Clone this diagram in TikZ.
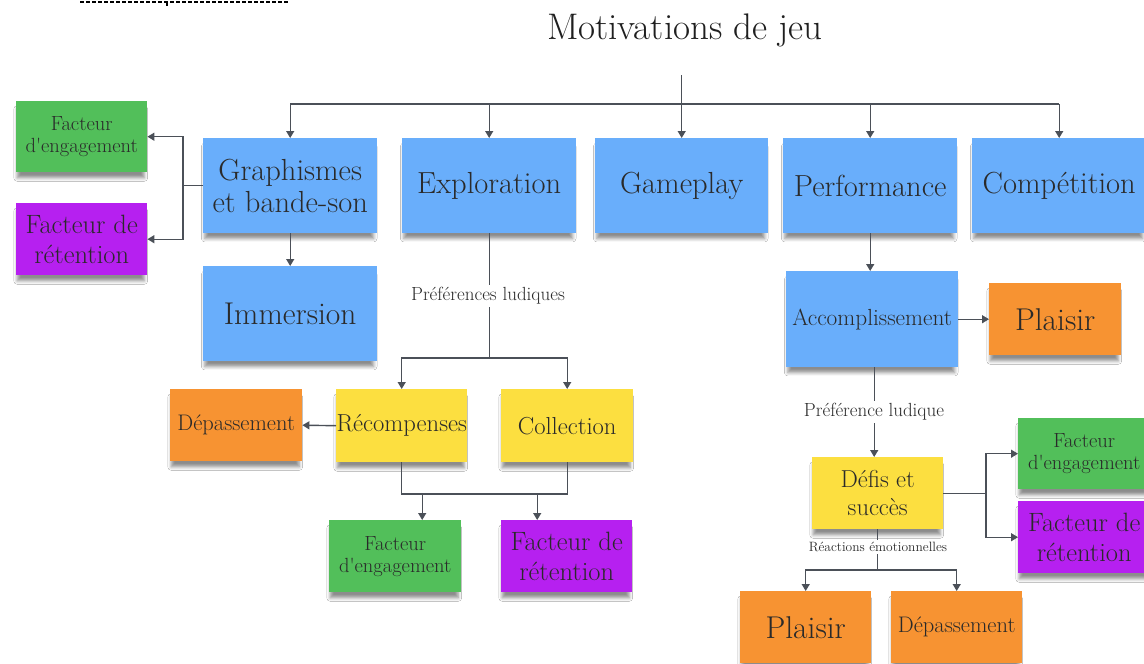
\documentclass[tikz,border=0pt]{standalone}
\usepackage{fontspec}
\usetikzlibrary{arrows.meta,shadows.blur}

\definecolor{notebl}{HTML}{69AEFB}
\definecolor{notegr}{HTML}{52BF5A}
\definecolor{notepu}{HTML}{B620F0}
\definecolor{noteor}{HTML}{F79332}
\definecolor{noteye}{HTML}{FCDF40}
\definecolor{ink}{HTML}{2A2A2A}
\definecolor{wire}{HTML}{4B5058}

\newcommand{\fs}[2]{\fontsize{#1}{#2}\selectfont}
\newcommand{\engage}{Facteur\\d\textquotesingle engagement}

\tikzset{
  note/.style={rectangle, anchor=north west, inner sep=0pt, align=center, text=ink,
    blur shadow={shadow xshift=-1pt, shadow yshift=-7pt, shadow scale=0.97,
      shadow blur radius=3.5pt, shadow blur extra rounding=0pt, shadow opacity=45}},
  small/.style={minimum width=131pt, minimum height=72pt},
  big/.style={minimum width=174pt, minimum height=95pt},
  blue/.style={note, fill=notebl},
  green/.style={note, fill=notegr},
  purple/.style={note, fill=notepu},
  orange/.style={note, fill=noteor},
  yellow/.style={note, fill=noteye},
  wirestyle/.style={draw=wire, line width=1.4pt},
  arr/.style={wirestyle, -{Triangle[length=7pt,width=8pt]}},
  edgelabel/.style={fill=white, inner sep=2pt, text=ink},
  rowtext/.style={font=\fs{30.5}{32}},
  engtext/.style={font=\fs{20.5}{22}},
  rettext/.style={font=\fs{26.5}{30}},
}

\begin{document}
\begin{tikzpicture}[x=1pt,y=-1pt]
\clip (0,0) rectangle (1144,664);
\fill[white] (0,0) rectangle (1144,664);

% dashed rule along the top edge
\coordinate (ruleA) at (80,2);
\coordinate (ruleB) at (288,2);
\coordinate (ruleT) at (167,6);
\draw[black, line width=1.6pt, dash pattern=on 3.5pt off 2.5pt] (ruleA) -- (ruleB);
\draw[black, line width=1.5pt] (ruleT |- ruleA) -- (ruleT);

% title
\node[text=black!88, font=\fs{37}{40}] (title) at (685,30) {Motivations de jeu};

% first row
\node[blue, big, rowtext] (graph) at (203,138) {Graphismes\\et bande-son};
\node[blue, big, rowtext] (expl) at (402,138) {Exploration};
\node[blue, big, minimum width=173pt, rowtext] (game) at (595,138) {Gameplay};
\node[blue, big, rowtext] (perf) at (783,138) {Performance};
\node[blue, big, rowtext] (comp) at (972,138) {Compétition};

% left branch
\node[green, small, minimum height=71pt, engtext] (eng1) at (16,101) {\engage};
\node[purple, small, rettext] (ret1) at (16,203) {Facteur de\\rétention};
\node[blue, big, font=\fs{31.5}{34}] (imm) at (203,266) {Immersion};

% exploration branch
\node[yellow, small, minimum height=73pt, font=\fs{24.6}{28}] (recomp) at (336,389) {Récompenses};
\node[yellow, small, minimum width=132pt, minimum height=73pt, font=\fs{24.6}{28}] (coll) at (501,389) {Collection};
\node[orange, small, minimum width=132pt, font=\fs{22.5}{26}] (dep1) at (170,389) {Dépassement};
\node[green, small, minimum width=132pt, engtext] (eng2) at (329,520) {\engage};
\node[purple, small, rettext] (ret2) at (501,520) {Facteur de\\rétention};

% performance branch
\node[blue, minimum width=172pt, minimum height=96pt, font=\fs{23.3}{26}] (acc) at (786,271) {Accomplissement};
\node[orange, small, minimum width=132pt, font=\fs{31.5}{34}] (pl1) at (989,283) {Plaisir};
\node[yellow, small, font=\fs{24.5}{28}] (defis) at (812,457) {Défis et\\succès};
\node[green, small, minimum width=132pt, minimum height=71pt, engtext] (eng3) at (1018,418) {\engage};
\node[purple, small, minimum width=132pt, rettext] (ret3) at (1018,501) {Facteur de\\rétention};
\node[orange, small, font=\fs{31.5}{34}] (pl2) at (740,591) {Plaisir};
\node[orange, small, font=\fs{22.5}{26}] (dep2) at (891,591) {Dépassement};

% junction points
\coordinate (tstart) at (682,75);
\coordinate (bus) at (0,104);
\coordinate (gj) at (183,0);
\coordinate (ebus) at (0,358);
\coordinate (rbus) at (0,494);
\coordinate (dj) at (986,0);
\coordinate (fbus) at (0,570);

% top distribution
\draw[wirestyle] (graph.north |- bus) -- (comp.north |- bus);
\draw[arr] (game.north |- tstart) -- (game.north);
\draw[arr] (graph.north |- bus) -- (graph.north);
\draw[arr] (expl.north |- bus) -- (expl.north);
\draw[arr] (perf.north |- bus) -- (perf.north);
\draw[arr] (comp.north |- bus) -- (comp.north);

% graphismes
\draw[wirestyle] (graph.west) -- (gj |- graph.west);
\draw[arr] (gj |- graph.west) |- (eng1.east);
\draw[arr] (gj |- graph.west) |- (ret1.east);
\draw[arr] (graph.south) -- (imm.north);

% exploration
\draw[wirestyle] (expl.south) -- (expl.south |- ebus);
\draw[arr] (expl.south |- ebus) -| (recomp.north);
\draw[arr] (expl.south |- ebus) -| (coll.north);
\node[edgelabel, font=\fs{19}{21}] (lab1) at (488,296) {Préférences ludiques};
\draw[arr] (recomp.west) -- (dep1.east);
\draw[wirestyle] (recomp.south) -- (recomp.south |- rbus) -- (coll.south |- rbus) -- (coll.south);
\draw[arr] ([xshift=27pt]eng2.north |- rbus) -- ([xshift=27pt]eng2.north);
\draw[arr] ([xshift=-29.5pt]ret2.north |- rbus) -- ([xshift=-29.5pt]ret2.north);

% performance
\draw[arr] (perf.south) -- (perf.south |- acc.north);
\draw[arr] (acc.east) -- (pl1.west);
\draw[arr] ([xshift=2pt]acc.south) -- ([xshift=2pt]acc.south |- defis.north);
\node[edgelabel, font=\fs{19}{21}] (lab2) at (874,412) {Préférence ludique};
\draw[wirestyle] (defis.east) -- (dj |- defis.east);
\draw[arr] (dj |- defis.east) |- (eng3.west);
\draw[arr] (dj |- defis.east) |- (ret3.west);
\draw[wirestyle] (defis.south) -- (defis.south |- fbus);
\draw[arr] (defis.south |- fbus) -| (pl2.north);
\draw[arr] (defis.south |- fbus) -| (dep2.north);
\node[edgelabel, font=\fs{13.5}{15}] (lab3) at (878,547) {Réactions émotionnelles};
\end{tikzpicture}
\end{document}
